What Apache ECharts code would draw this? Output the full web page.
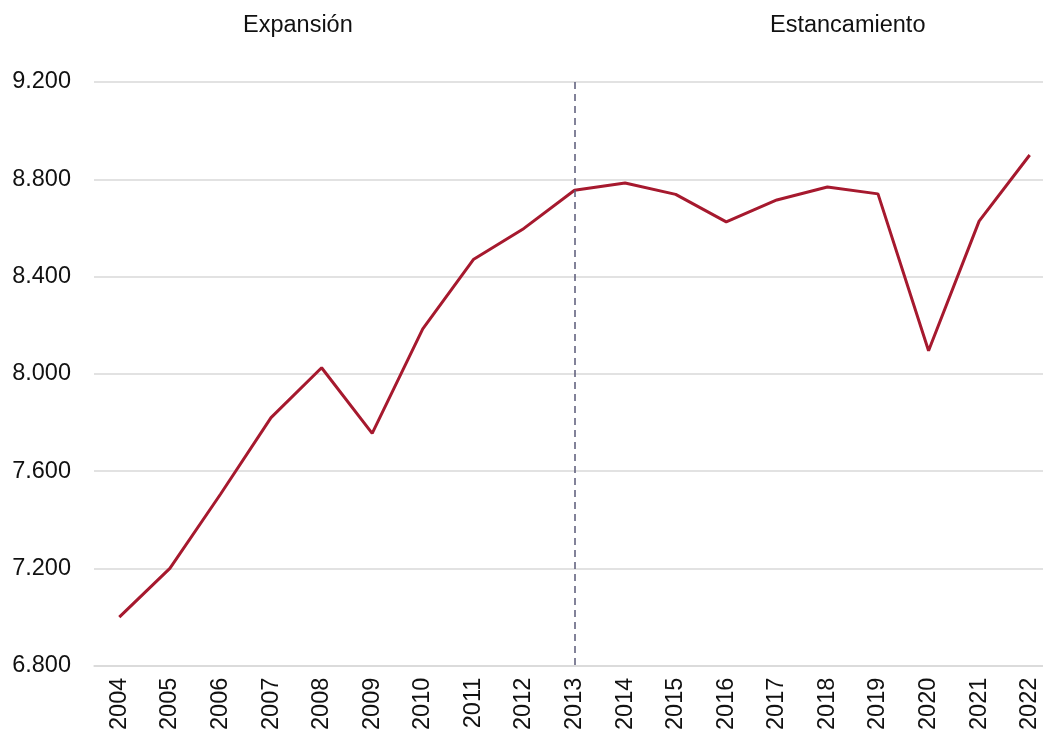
<!DOCTYPE html>
<html>
<head>
<meta charset="utf-8">
<script src="https://cdn.jsdelivr.net/npm/echarts@6/dist/echarts.min.js"></script>
<style>
  html, body { margin: 0; padding: 0; background: #fff; overflow: hidden; }
  /* el área de trazado sigue más allá del borde derecho, como en el original */
  #chart { width: 1055px; height: 733px; }
</style>
</head>
<body>
<div id="chart"></div>
<script>
  // años y valores
  var years = ['2004', '2005', '2006', '2007', '2008', '2009', '2010', '2011', '2012', '2013',
               '2014', '2015', '2016', '2017', '2018', '2019', '2020', '2021', '2022'];
  var values = [7000, 7200, 7505, 7820, 8025, 7755, 8185, 8470, 8598, 8755,
                8785, 8738, 8625, 8715, 8768, 8740, 8095, 8628, 8900];
  var yTicks = [6800, 7200, 7600, 8000, 8400, 8800, 9200];
  var splitYear = '2013';
  var phases = ['Expansión', 'Estancamiento'];

  var font = 'Liberation Sans, Arial, sans-serif';
  var fs = 23.5;

  var chart = echarts.init(document.getElementById('chart'));
  var option = {
    animation: false,
    graphic: [
      {
        type: 'text', left: 243, top: 14,
        style: { text: phases[0], fontSize: fs, fontFamily: font, fill: '#111' }
      },
      {
        type: 'text', left: 770, top: 14,
        style: { text: phases[1], fontSize: fs, fontFamily: font, fill: '#111' }
      }
    ],
    grid: {
      left: 94,
      right: 0,
      top: 82,
      bottom: 67
    },
    xAxis: {
      type: 'category',
      data: years,
      boundaryGap: true,
      axisLine: { show: true, lineStyle: { color: '#d9d9d9', width: 1.5 } },
      axisTick: { show: false },
      axisLabel: {
        rotate: 90,
        margin: 12,
        fontSize: fs,
        fontFamily: font,
        color: '#111',
        interval: 0
      }
    },
    yAxis: {
      type: 'value',
      min: yTicks[0],
      max: yTicks[yTicks.length - 1],
      interval: 400,
      axisLine: { show: false },
      axisTick: { show: false },
      splitLine: { lineStyle: { color: '#d9d9d9', width: 1.5 } },
      axisLabel: {
        margin: 23,
        fontSize: fs,
        fontFamily: font,
        color: '#111',
        formatter: function (v) {
          return String(v).replace(/\B(?=(\d{3})+(?!\d))/g, '.');
        }
      }
    },
    series: [{
      type: 'line',
      data: values,
      symbol: 'none',
      lineStyle: { color: '#a6192e', width: 3 },
      markLine: {
        silent: true,
        symbol: 'none',
        label: { show: false },
        lineStyle: { color: '#5a5a78', type: [7, 5], width: 1.5 },
        data: [[
          { xAxis: splitYear, yAxis: yTicks[yTicks.length - 1] },
          { xAxis: splitYear, yAxis: yTicks[0] }
        ]]
      }
    }]
  };
  chart.setOption(option);
</script>
</body>
</html>
